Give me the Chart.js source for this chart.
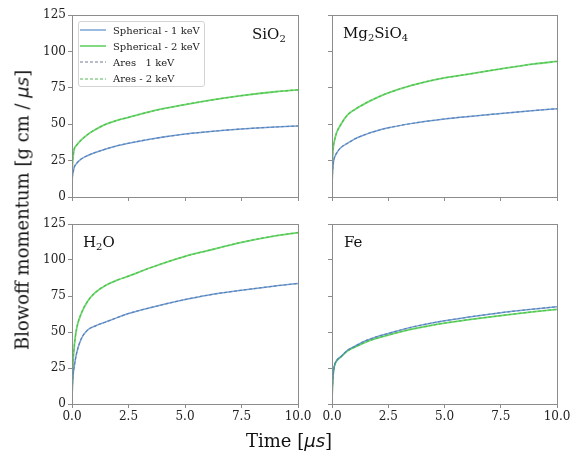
<!DOCTYPE html>
<html>
<head>
<meta charset="utf-8">
<script src="https://cdn.jsdelivr.net/npm/chart.js@4"></script>
<style>
  body { margin: 0; background: #fff; width: 575px; height: 463px; position: relative; overflow: hidden; }
  canvas { position: absolute; }
  .lbl { position: absolute; font-family: 'DejaVu Serif', serif; font-size: 15px; color: #111; white-space: nowrap; line-height: 1; }
  .lbl sub { font-size: 10px; vertical-align: -3px; }
  #ytitle { position: absolute; left: 22px; top: 210px; transform: translate(-50%, -50%) rotate(-90deg);
            font-family: 'DejaVu Serif', serif; font-size: 18px; color: #111; white-space: nowrap; }
  #xtitle { position: absolute; left: 289px; top: 440px; transform: translate(-50%, -50%);
            font-family: 'DejaVu Serif', serif; font-size: 18px; color: #111; white-space: nowrap; }
  .mu { font-family: 'DejaVu Sans', sans-serif; font-style: italic; }
  #legend { position: absolute; left: 78px; top: 21px; width: 127px; height: 66px; box-sizing: border-box;
            border: 1px solid #d4d4d4; border-radius: 3px; background: rgba(255,255,255,0.8); }
  #legend .row { height: 16.2px; display: flex; align-items: center; font-family: 'DejaVu Serif', serif;
                 font-size: 10px; color: #222; white-space: pre; }
  #legend svg { margin-left: 1px; margin-right: 7px; flex: none; }
</style>
</head>
<body>
<canvas id="c1"></canvas>
<canvas id="c2"></canvas>
<canvas id="c3"></canvas>
<canvas id="c4"></canvas>
<div id="legend"></div>
<div class="lbl" style="left:252px; top:27px;">SiO<sub>2</sub></div>
<div class="lbl" style="left:343px; top:26px;">Mg<sub>2</sub>SiO<sub>4</sub></div>
<div class="lbl" style="left:83px; top:235px;">H<sub>2</sub>O</div>
<div class="lbl" style="left:344px; top:235px;">Fe</div>
<div id="ytitle">Blowoff momentum [g cm / <span class="mu">μs</span>]</div>
<div id="xtitle">Time [<span class="mu">μs</span>]</div>
<script>
// time samples in microseconds
const time = [0, 0.02, 0.05, 0.1, 0.2, 0.4, 0.7, 1.0, 1.5, 2.0, 2.5, 3.5, 5.0, 6.0, 7.5, 9.0, 10.0];

const seriesLabels = ['Spherical - 1 keV', 'Spherical - 2 keV', 'Ares   1 keV', 'Ares - 2 keV'];
const xTicks = [0, 2.5, 5, 7.5, 10];
const yTicks = [0, 25, 50, 75, 100, 125];

// SiO2
const sio2Sph1 = [10, 14, 17, 20.5, 23, 26, 28.5, 30.4, 33, 35.2, 36.9, 39.8, 43.2, 44.8, 46.7, 48.1, 48.8];
const sio2Sph2 = [15, 22, 28, 33, 35.5, 39, 43, 46, 50, 52.7, 54.7, 58.8, 63.5, 66.2, 69.6, 72.3, 73.6];
const sio2Ares1 = [10, 14, 17, 20.5, 23, 26, 28.5, 30.4, 33, 35.2, 36.9, 39.8, 43.2, 44.8, 46.7, 48.1, 48.8];
const sio2Ares2 = [15, 22, 28, 33, 35.5, 39, 43, 46, 50, 52.7, 54.7, 58.8, 63.5, 66.2, 69.6, 72.3, 73.6];

// Mg2SiO4
const mgSph1 = [5, 15, 22, 26.5, 30, 34, 37, 39.8, 43, 45.5, 47.5, 50.4, 53.6, 55.2, 57.3, 59.4, 60.6];
const mgSph2 = [8, 25, 33, 38, 44, 50, 56.5, 60, 64.5, 68.3, 71.5, 76.5, 81.8, 84.2, 88, 91.4, 93.1];
const mgAres1 = [5, 15, 22, 26.5, 30, 34, 37, 39.8, 43, 45.5, 47.5, 50.4, 53.6, 55.2, 57.3, 59.4, 60.6];
const mgAres2 = [8, 25, 33, 38, 44, 50, 56.5, 60, 64.5, 68.3, 71.5, 76.5, 81.8, 84.2, 88, 91.4, 93.1];

// H2O
const h2oSph1 = [3, 12, 20, 26, 35, 45, 51.5, 54, 57, 60, 62.8, 67, 72.5, 75.6, 79, 82, 83.7];
const h2oSph2 = [5, 18, 30, 40, 52, 62.5, 71.5, 77, 82.5, 86, 88.8, 94.8, 102.5, 106.5, 112.3, 116.8, 119];
const h2oAres1 = [3, 12, 20, 26, 35, 45, 51.5, 54, 57, 60, 62.8, 67, 72.5, 75.6, 79, 82, 83.7];
const h2oAres2 = [5, 18, 30, 40, 52, 62.5, 71.5, 77, 82.5, 86, 88.8, 94.8, 102.5, 106.5, 112.3, 116.8, 119];

// Fe
const feSph1 = [3, 12, 20, 26, 30, 33, 37.5, 40, 44, 46.8, 49, 53.2, 57.8, 60.2, 63.4, 66, 67.6];
const feSph2 = [3, 12, 20, 26, 29.8, 32.8, 37, 39.4, 43, 45.7, 47.9, 51.8, 56.2, 58.4, 61.4, 64.1, 65.7];
const feAres1 = [3, 12, 20, 26, 30, 33, 37.5, 40, 44, 46.8, 49, 53.2, 57.8, 60.2, 63.4, 66, 67.6];
const feAres2 = [3, 12, 20, 26, 29.8, 32.8, 37, 39.4, 43, 45.7, 47.9, 51.8, 56.2, 58.4, 61.4, 64.1, 65.7];

const lineStyles = [
  { borderColor: 'rgba(76,132,200,0.75)', borderWidth: 1.5, borderDash: [] },
  { borderColor: 'rgba(70,200,70,0.75)', borderWidth: 1.8, borderDash: [] },
  { borderColor: 'rgba(70,82,112,0.75)', borderWidth: 1.1, borderDash: [3, 2] },
  { borderColor: 'rgba(60,170,60,0.85)', borderWidth: 1.1, borderDash: [3, 2] }
];

const frameColor = '#8c8c8c';

// legend rows: a short line sample and the series name
const legendEl = document.getElementById('legend');
seriesLabels.forEach((name, i) => {
  const st = lineStyles[i];
  const row = document.createElement('div');
  row.className = 'row';
  row.innerHTML = '<svg width="26" height="4"><line x1="0" y1="2" x2="26" y2="2" stroke="' + st.borderColor +
    '" stroke-width="' + st.borderWidth + '" stroke-dasharray="' + (st.borderDash.join(',') || 'none') + '"/></svg>';
  row.appendChild(document.createTextNode(name));
  legendEl.appendChild(row);
});

// draws the box around each panel
const framePlugin = {
  id: 'frame',
  afterDraw(chart) {
    const a = chart.chartArea;
    const ctx = chart.ctx;
    ctx.save();
    ctx.strokeStyle = frameColor;
    ctx.lineWidth = 1;
    ctx.strokeRect(Math.round(a.left) + 0.5, Math.round(a.top) + 0.5,
                   Math.round(a.right - a.left), Math.round(a.bottom - a.top));
    ctx.restore();
  }
};

function makePanel(id, box, series, opts) {
  const cv = document.getElementById(id);
  cv.style.left = box.left + 'px';
  cv.style.top = box.top + 'px';
  cv.style.width = box.width + 'px';
  cv.style.height = box.height + 'px';
  cv.width = box.width;
  cv.height = box.height;

  const datasets = series.map((vals, i) => ({
    label: seriesLabels[i],
    data: time.map((t, k) => ({ x: t, y: vals[k] })),
    borderColor: lineStyles[i].borderColor,
    borderWidth: lineStyles[i].borderWidth,
    borderDash: lineStyles[i].borderDash,
    pointRadius: 0,
    fill: false,
    cubicInterpolationMode: 'monotone'
  }));

  return new Chart(cv.getContext('2d'), {
    type: 'line',
    data: { datasets: datasets },
    options: {
      responsive: false,
      animation: false,
      devicePixelRatio: 1,
      layout: { padding: { left: 0, right: box.padRight, top: box.padTop, bottom: 0 } },
      scales: {
        x: {
          type: 'linear',
          min: 0, max: 10,
          afterBuildTicks: s => { s.ticks = xTicks.map(v => ({ value: v })); },
          afterFit: s => { s.height = box.xAxisH; },
          grid: { display: true, drawOnChartArea: false, drawTicks: true, tickLength: 4, color: frameColor },
          border: { display: false },
          ticks: {
            display: opts.xLabels,
            maxRotation: 0,
            padding: 2,
            color: '#222',
            font: { family: 'DejaVu Serif', size: 12 },
            callback: v => v.toFixed(1)
          }
        },
        y: {
          min: 0, max: 125,
          afterBuildTicks: s => { s.ticks = yTicks.map(v => ({ value: v })); },
          afterFit: s => { s.width = box.yAxisW; },
          grid: { display: true, drawOnChartArea: false, drawTicks: true, tickLength: 4, color: frameColor },
          border: { display: false },
          ticks: {
            display: opts.yLabels,
            padding: 2,
            color: '#222',
            font: { family: 'DejaVu Serif', size: 12 }
          }
        }
      },
      plugins: {
        tooltip: { enabled: false },
        legend: { display: false }
      }
    },
    plugins: [framePlugin]
  });
}

makePanel('c1', { left: 0, top: 0, width: 320, height: 215, padTop: 15, padRight: 22, yAxisW: 72, xAxisH: 18 },
  [sio2Sph1, sio2Sph2, sio2Ares1, sio2Ares2], { xLabels: false, yLabels: true });
makePanel('c2', { left: 290, top: 0, width: 285, height: 215, padTop: 15, padRight: 18, yAxisW: 42, xAxisH: 18 },
  [mgSph1, mgSph2, mgAres1, mgAres2], { xLabels: false, yLabels: false });
makePanel('c3', { left: 0, top: 205, width: 320, height: 225, padTop: 19, padRight: 22, yAxisW: 72, xAxisH: 26 },
  [h2oSph1, h2oSph2, h2oAres1, h2oAres2], { xLabels: true, yLabels: true });
makePanel('c4', { left: 290, top: 205, width: 285, height: 225, padTop: 19, padRight: 18, yAxisW: 42, xAxisH: 26 },
  [feSph1, feSph2, feAres1, feAres2], { xLabels: true, yLabels: false });
</script>
</body>
</html>
